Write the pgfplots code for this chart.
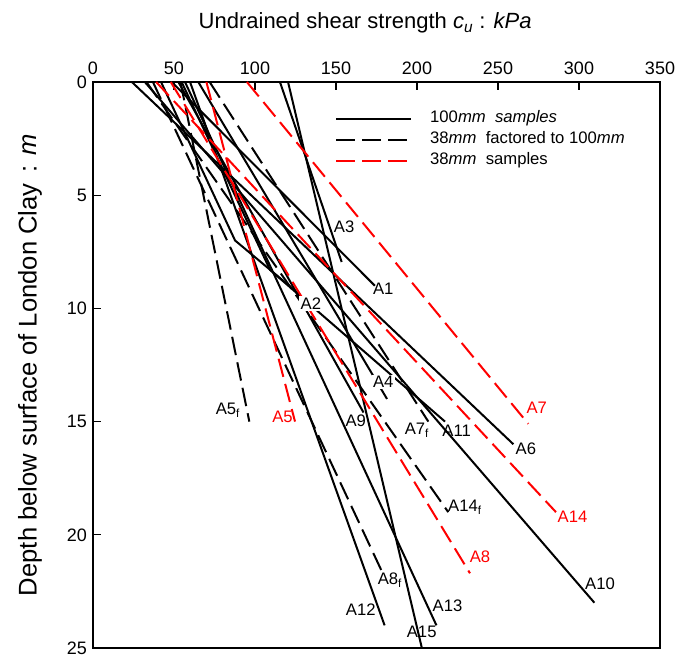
\documentclass[border=0pt]{standalone}
\usepackage{pgfplots}
\pgfplotsset{compat=1.18}
\usepackage{fontspec}
\setmainfont{Liberation Sans}
\begin{document}
\begin{tikzpicture}
\tikzset{
 solidl/.style={black, line width=1.5pt},
 dashk/.style={black, line width=1.5pt, dash pattern=on 14pt off 5.5pt},
 dashr/.style={red, line width=1.5pt, dash pattern=on 14pt off 5.5pt},
 lab/.style={font=\fontsize{12.5}{15}\selectfont, inner sep=1pt},
}
\begin{axis}[
 name=ax,
 scale only axis, width=425.25pt, height=424.5pt,
 xmin=0, xmax=350, ymin=0, ymax=25,
 y dir=reverse,
 xtick={0,50,...,350}, ytick={0,5,...,25},
 xtick pos=right, xticklabel pos=right, ytick pos=left,
 tick align=inside, major tick length=6pt,
 axis line style={line width=1.2pt},
 tick style={line width=1pt, black},
 ticklabel style={font=\fontsize{13.5}{16}\selectfont},
 xticklabel style={yshift=2pt},
 yticklabel style={xshift=-1pt},
 /pgf/number format/assume math mode=true,
 xlabel={Undrained shear strength \textit{c}\textsubscript{\textit{u}} : \textit{kPa}},
 ylabel={Depth below surface of London Clay\, : \textit{m}},
 xlabel style={font=\fontsize{16.5}{19}\selectfont, at={(rel axis cs:0.48,1.104)}, anchor=center},
 ylabel style={font=\fontsize{19.2}{22}\selectfont, at={(rel axis cs:-0.111,0.5)}, anchor=center, rotate=0},
 legend style={draw=none, fill=none, at={(rel axis cs:0.4268,0.9497)}, anchor=north west,
   font=\fontsize{12.5}{15}\selectfont, inner sep=0pt, row sep=3.75pt, column sep=13.7pt,
   nodes={inner sep=0pt, text height=9pt, text depth=3pt}},
 legend cell align=left,
 legend image code/.code={\draw[#1] (0pt,0pt) -- (56pt,0pt);},
]
\addlegendimage{solidl}
\addlegendentry{100\textit{mm}~~\textit{samples}}
\addlegendimage{dashk}
\addlegendentry{38\textit{mm}~~factored to 100\textit{mm}}
\addlegendimage{dashr}
\addlegendentry{38\textit{mm}~~samples}

% solid lines (100mm samples)
\addplot[solidl, forget plot] coordinates {(48.6,0) (174,9)};          % A1
\addplot[solidl, forget plot] coordinates {(42,0) (87.7,7.0) (127.8,9.4)}; % A2
\addplot[solidl, forget plot] coordinates {(115.4,0) (153.5,7.95)};    % A3
\addplot[solidl, forget plot] coordinates {(65,0) (181.5,14)};         % A4
\addplot[solidl, forget plot] coordinates {(24,0) (259.5,16)};         % A6
\addplot[solidl, forget plot] coordinates {(52.7,0) (167,14.6)};       % A9
\addplot[solidl, forget plot] coordinates {(32,0) (309.5,23)};         % A10
\addplot[solidl, forget plot] coordinates {(54.7,0) (109.3,8.3) (217.3,15)}; % A11
\addplot[solidl, forget plot] coordinates {(59.9,0) (180,24)};         % A12
\addplot[solidl, forget plot] coordinates {(56.8,0) (212,24)};         % A13
\addplot[solidl, forget plot] coordinates {(120.4,0) (203,25)};        % A15
% 38mm factored
\addplot[dashk, forget plot] coordinates {(54,0) (96.5,15)};           % A5f
\addplot[dashk, forget plot] coordinates {(72,0) (207,15)};            % A7f
\addplot[dashk, forget plot] coordinates {(37,0) (178.2,21.6)};        % A8f
\addplot[dashk, forget plot] coordinates {(33,0) (219.3,19)};          % A14f
% 38mm samples
\addplot[dashr, forget plot] coordinates {(70,0) (124.7,15)};          % A5
\addplot[dashr, forget plot] coordinates {(95,0) (268.7,15.1)};        % A7
\addplot[dashr, forget plot] coordinates {(48,0) (232.7,21.7)};        % A8
\addplot[dashr, forget plot] coordinates {(39,0) (285.8,19)};          % A14

\node[lab] at (axis cs:179.2,9.12) {A1};
\node[lab, fill=white] at (axis cs:134.5,9.78) {A2};
\node[lab] at (axis cs:155,6.4) {A3};
\node[lab, fill=white] at (axis cs:179.2,13.25) {A4};
\node[lab, text=red] at (axis cs:117,14.8) {A5};
\node[lab] at (axis cs:83.3,14.5) {A5\textsubscript{f}};
\node[lab] at (axis cs:267.2,16.2) {A6};
\node[lab, text=red] at (axis cs:273.9,14.4) {A7};
\node[lab] at (axis cs:200,15.4) {A7\textsubscript{f}};
\node[lab, text=red] at (axis cs:238.9,20.97) {A8};
\node[lab] at (axis cs:183.3,22.0) {A8\textsubscript{f}};
\node[lab] at (axis cs:162.2,14.97) {A9};
\node[lab] at (axis cs:313,22.15) {A10};
\node[lab] at (axis cs:224.5,15.4) {A11};
\node[lab] at (axis cs:165.3,23.3) {A12};
\node[lab] at (axis cs:218.8,23.14) {A13};
\node[lab, text=red] at (axis cs:296,19.2) {A14};
\node[lab] at (axis cs:229.6,18.8) {A14\textsubscript{f}};
\node[lab] at (axis cs:202.9,24.3) {A15};
\end{axis}
\pgfresetboundingbox
\path[use as bounding box] ([xshift=-69.75pt,yshift=-8.25pt]ax.south west) rectangle ([xshift=12.75pt,yshift=61.5pt]ax.north east);
\end{tikzpicture}
\end{document}
